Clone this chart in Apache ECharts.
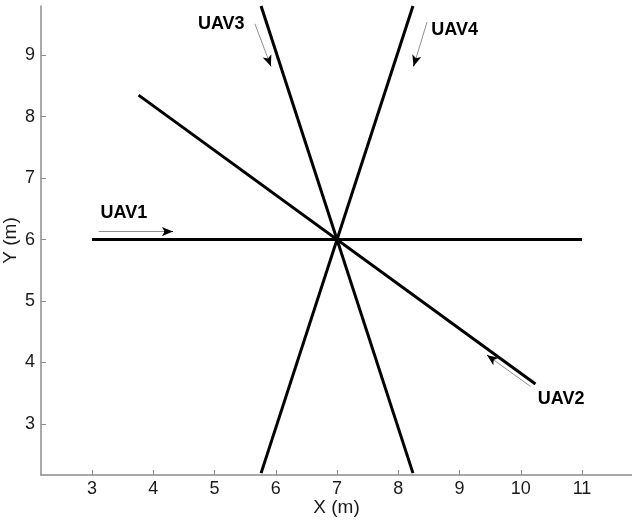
<!DOCTYPE html>
<html>
<head>
<meta charset="utf-8">
<script src="https://cdn.jsdelivr.net/npm/echarts@6/dist/echarts.min.js"></script>
<style>
  html, body { margin: 0; padding: 0; background: #fff; }
  #chart { width: 632px; height: 525px; }
</style>
</head>
<body>
<div id="chart"></div>
<script>
// Straight-line flight paths of four UAVs crossing at (7, 6), endpoints in metres
const uav1Path = [[3.00, 6.00], [11.00, 6.00]];
const uav2Path = [[3.76, 8.35], [10.24, 3.65]];
const uav3Path = [[5.76, 9.80], [8.24, 2.20]];
const uav4Path = [[8.24, 9.80], [5.76, 2.20]];

// Direction-of-travel arrows (start, end) and their labels
const arrowPaths = [
  [[3.11, 6.13], [4.32, 6.13]],
  [[10.16, 3.61], [9.45, 4.12]],
  [[5.66, 9.51], [5.92, 8.82]],
  [[8.47, 9.54], [8.25, 8.82]]
];
const labelNames = ['UAV1', 'UAV2', 'UAV3', 'UAV4'];
const labelPositions = [[3.52, 6.43], [10.66, 3.41], [5.11, 9.50], [8.92, 9.41]];

// Axis tick labels
const xTicks = [3, 4, 5, 6, 7, 8, 9, 10, 11];
const yTicks = [3, 4, 5, 6, 7, 8, 9];

const FONT = '"Liberation Sans", Arial, sans-serif';
const axisGray = '#8c8c8c';
const textColor = '#1a1a1a';

function pathSeries(name, pts) {
  return {
    name: name,
    type: 'line',
    data: pts,
    symbol: 'none',
    clip: true,
    lineStyle: { color: '#000', width: 3 },
    z: 3
  };
}

// arrow shaft in gray, a short black tail end carrying the arrowhead
const shaftLines = arrowPaths.map(p => [{ coord: p[0] }, { coord: p[1] }]);
const headLines = arrowPaths.map(p => {
  const t = 0.88;
  const mid = [p[0][0] + (p[1][0] - p[0][0]) * t, p[0][1] + (p[1][1] - p[0][1]) * t];
  return [{ coord: mid }, { coord: p[1] }];
});

const chart = echarts.init(document.getElementById('chart'), null, { renderer: 'canvas' });
chart.setOption({
  animation: false,
  backgroundColor: '#fff',
  grid: { left: 41, right: 0, top: 6, bottom: 50, containLabel: false, outerBoundsMode: 'none' },
  xAxis: {
    type: 'value',
    min: 2.167,
    max: 11.816,
    name: 'X (m)',
    nameLocation: 'middle',
    nameGap: 23,
    nameMoveOverlap: false,
    nameTextStyle: { fontFamily: FONT, fontSize: 19, color: textColor },
    axisLine: { show: true, onZero: false, lineStyle: { color: axisGray, width: 1.5 } },
    axisTick: { show: true, inside: true, length: 5, customValues: xTicks, lineStyle: { color: axisGray } },
    axisLabel: { customValues: xTicks, margin: 5, fontFamily: FONT, fontSize: 18, color: textColor },
    splitLine: { show: false }
  },
  yAxis: {
    type: 'value',
    min: 2.17,
    max: 9.80,
    name: 'Y (m)',
    nameLocation: 'middle',
    nameGap: 21,
    nameRotate: 90,
    nameMoveOverlap: false,
    nameTextStyle: { fontFamily: FONT, fontSize: 19, color: textColor },
    axisLine: { show: true, onZero: false, lineStyle: { color: axisGray, width: 1.5 } },
    axisTick: { show: true, inside: true, length: 5, customValues: yTicks, lineStyle: { color: axisGray } },
    axisLabel: { customValues: yTicks, margin: 6, fontFamily: FONT, fontSize: 18, color: textColor },
    splitLine: { show: false }
  },
  series: [
    pathSeries('UAV1', uav1Path),
    pathSeries('UAV2', uav2Path),
    pathSeries('UAV3', uav3Path),
    pathSeries('UAV4', uav4Path),
    {
      name: 'arrows',
      type: 'line',
      data: [],
      silent: true,
      markLine: {
        silent: true,
        symbol: ['none', 'none'],
        label: { show: false },
        lineStyle: { color: '#8f8f8f', width: 1, type: 'solid' },
        data: shaftLines,
        animation: false
      },
      z: 4
    },
    {
      name: 'arrowheads',
      type: 'line',
      data: [],
      silent: true,
      markLine: {
        silent: true,
        symbol: ['none', 'arrow'],
        symbolSize: [7, 11],
        label: { show: false },
        lineStyle: { color: '#000', width: 1, type: 'solid' },
        data: headLines,
        animation: false
      },
      z: 5
    },
    {
      name: 'labels',
      type: 'scatter',
      symbolSize: 0,
      silent: true,
      data: labelPositions.map((p, i) => ({ value: p, name: labelNames[i] })),
      itemStyle: { color: '#000', opacity: 1 },
      label: {
        show: true,
        position: 'inside',
        formatter: '{b}',
        fontFamily: FONT,
        fontSize: 18,
        fontWeight: 'bold',
        color: '#000',
        opacity: 1
      },
      z: 6
    }
  ]
});
</script>
</body>
</html>
